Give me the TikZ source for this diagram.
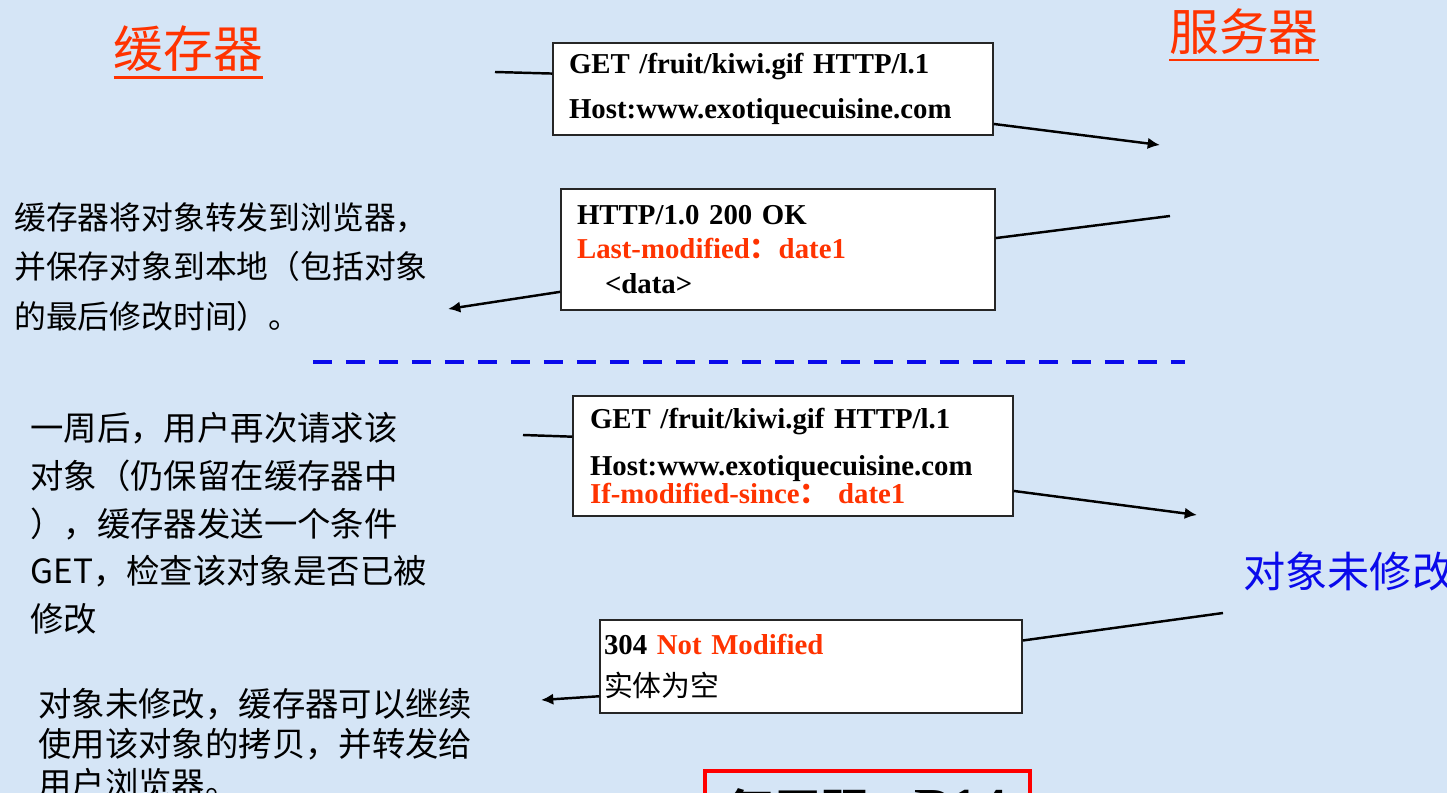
\documentclass[tikz,border=0pt]{standalone}
\usepackage{fontspec}
\setmainfont{Liberation Serif}
\newfontfamily\cjk{Noto Sans CJK SC}
\usetikzlibrary{calc,arrows.meta}
\definecolor{bgblue}{RGB}{213,229,246}
\definecolor{hired}{RGB}{255,51,0}
\definecolor{objblue}{RGB}{10,10,235}

\begin{document}
\begin{tikzpicture}[x=0.02cm, y=-0.02cm,
	msg/.style={draw=black!85, line width=0.9pt, fill=white, align=left, inner sep=0pt},
	wire/.style={line width=1.4pt},
	tip/.style={-{Latex[length=7pt,width=6.5pt]}},
	note/.style={anchor=north west, inner sep=0pt, align=left},
	title/.style={anchor=base, text=hired, inner sep=0pt, font={\cjk\fontsize{28.3}{34}\selectfont}}]

	\fill[bgblue] (0,0) rectangle (1447,793);
	\useasboundingbox (0,0) rectangle (1447,793);

	\node[title] (cache) at (188.5,68) {缓存器};
	\node[title] (server) at (1244,51) {服务器};
	\foreach \t in {cache, server}{
		\draw[hired, line width=1.2pt] ($(\t.south west)+(0,5)$) -- ($(\t.south east)+(0,5)$);
	}

	\node[msg, minimum width=8.8cm, minimum height=1.84cm, text width=8.16cm, font=\bfseries\fontsize{16.4}{25.5}\selectfont] (get1) at (773,89) {GET /fruit/kiwi.gif HTTP/l.1\\Host:www.exotiquecuisine.com};
	\node[msg, minimum width=8.68cm, minimum height=2.42cm, text width=8.04cm, font=\bfseries\fontsize{16.4}{19.6}\selectfont] (ok1) at (778,249.5) {HTTP/1.0 200 OK\\\textcolor{hired}{Last-modified{\cjk ：}date1}\\\hspace*{0.56cm}<data>};
	\node[msg, minimum width=8.8cm, minimum height=2.4cm, text width=8.12cm, font=\bfseries\fontsize{16.4}{15.9}\selectfont] (get2) at (793,456) {GET /fruit/kiwi.gif HTTP/l.1\\[10.7pt]Host:www.exotiquecuisine.com\\\textcolor{hired}{If-modified-since{\cjk ：} date1}};
	\node[msg, minimum width=8.44cm, minimum height=1.86cm, text width=8.28cm, font=\bfseries\fontsize{16.4}{23.8}\selectfont] (nm) at (811,666.5) {304 \textcolor{hired}{Not Modified}\\{\cjk\mdseries 实体为空}};

	% notes on the cache side
	\node[note, font=\cjk\fontsize{18.1}{28.3}\selectfont] (store) at (14,202) {缓存器将对象转发到浏览器，\\并保存对象到本地（包括对象\\的最后修改时间）。};
	\node[note, font=\cjk\fontsize{19}{27.2}\selectfont] (ask) at (30,412) {一周后，用户再次请求该\\对象（仍保留在缓存器中\\），缓存器发送一个条件\\GET，检查该对象是否已被\\修改};
	\node[note, font=\cjk\fontsize{19}{22.7}\selectfont] (reuse) at (38,688) {对象未修改，缓存器可以继续\\使用该对象的拷贝，并转发给\\用户浏览器。};
	\node[note, text=objblue, font=\cjk\fontsize{24}{28}\selectfont] (same) at (1243,552) {对象未修改};

	\node[draw=red, line width=2.3pt, anchor=north west, minimum width=6.5cm, minimum height=1.6cm, inner sep=0pt, font=\bfseries\fontsize{26.6}{32}\selectfont] (review) at (703,769) {{\cjk 复习题：}{\fontsize{33}{36}\selectfont P14}};

	\draw[objblue, line width=2.3pt, dash pattern=on 0.38cm off 0.28cm] (313,362) -- (1185,362);

	\coordinate (s1) at (495,72);
	\coordinate (t1) at (1160,145);
	\coordinate (s2) at (1170,216);
	\coordinate (t2) at (448,309);
	\coordinate (s3) at (523,435);
	\coordinate (t3) at (1197,515);
	\coordinate (s4) at (1223,613);
	\coordinate (t4) at (541,700);
	\foreach \n/\bx/\ia/\oa in {1/get1/176.9/-9.8, 2/ok1/3/191.6, 3/get2/175.8/-9.3, 4/nm/7.7/188}{
		\draw[wire] (s\n) -- (\bx.\ia);
		\draw[wire, tip] (\bx.\oa) -- (t\n);
	}
\end{tikzpicture}
\end{document}
